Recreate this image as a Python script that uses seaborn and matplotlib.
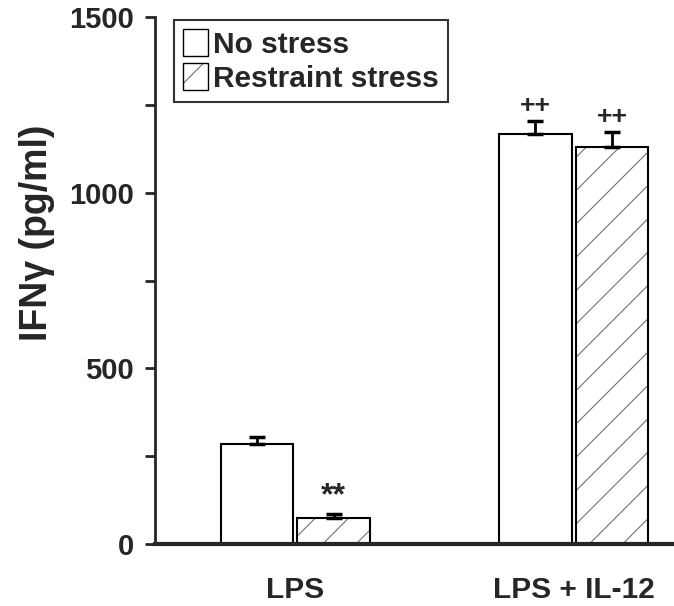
import matplotlib
matplotlib.use("Agg")
import matplotlib.pyplot as plt
import seaborn as sns
import pandas as pd
from matplotlib.patches import Patch

categories = ["LPS", "LPS + IL-12"]
conditions = ["No stress", "Restraint stress"]
no_stress = [285, 1167]
restraint = [74, 1130]
no_stress_err = [20, 37]
restraint_err = [11, 43]
yticks = [0, 500, 1000, 1500]
minor_yticks = [250, 750, 1250]

df = pd.DataFrame({
    "Treatment": categories * 2,
    "Condition": [conditions[0]] * 2 + [conditions[1]] * 2,
    "IFN": no_stress + restraint,
})

sns.set_theme(style="ticks")
plt.rcParams["font.family"] = ["Liberation Sans", "DejaVu Sans"]
plt.rcParams["font.weight"] = "bold"
plt.rcParams["hatch.linewidth"] = 0.8

HATCH_GRAY = (0.45, 0.45, 0.45, 1.0)

fig = plt.figure(figsize=(6.74, 6.06), dpi=100)
ax = fig.add_axes([155 / 674, 1 - 544 / 606, 1 - 155 / 674, (544 - 17) / 606])

sns.barplot(data=df, x="Treatment", y="IFN", hue="Condition", order=categories,
            hue_order=conditions, palette=["white", "white"], edgecolor="black",
            linewidth=1.5, width=0.55, gap=0.05, errorbar=None, legend=False, ax=ax)

bars = [p for p in ax.patches if p.get_height() > 0]
for i, cat in enumerate(categories):
    pair = [b for b in bars if abs(b.get_x() + b.get_width() / 2 - i) < 0.5]
    pair = sorted(pair, key=lambda p: p.get_x())
    ns_bar, rs_bar = pair
    rs_bar.set_hatch("/")
    rs_bar._hatch_color = HATCH_GRAY
    for b, err in ((ns_bar, no_stress_err[i]), (rs_bar, restraint_err[i])):
        xc = b.get_x() + b.get_width() / 2
        ax.errorbar(xc, b.get_height(), yerr=[[0], [err]], fmt="none",
                    ecolor="black", elinewidth=2, capsize=5.5, capthick=2.5, zorder=3)
    if i == 0:
        xc = rs_bar.get_x() + rs_bar.get_width() / 2
        ax.text(xc, rs_bar.get_height() + restraint_err[i] + 8, "**", ha="center",
                va="bottom", fontsize=23, fontweight="bold")
    else:
        for b, err in ((ns_bar, no_stress_err[i]), (rs_bar, restraint_err[i])):
            xc = b.get_x() + b.get_width() / 2
            ax.text(xc, b.get_height() + err + 8, "++", ha="center",
                    va="bottom", fontsize=19, fontweight="bold")

ax.set_xlim(-0.504, 1.36)
ax.set_ylim(0, 1500)
ax.set_yticks(yticks)
ax.set_yticks(minor_yticks, minor=True)
ax.set_yticklabels([str(t) for t in yticks], fontsize=21, fontweight="bold")
ax.tick_params(axis="y", which="both", length=7, width=2, direction="out", pad=8)
ax.tick_params(axis="x", length=0, pad=23)
for lab in ax.get_xticklabels():
    lab.set_fontsize(21.5)
    lab.set_fontweight("bold")
ax.set_xlabel("")
ax.set_ylabel("IFNγ (pg/ml)", fontsize=27, fontweight="bold")
ax.yaxis.set_label_coords(-0.193, 0.59)
ax.spines["top"].set_visible(False)
ax.spines["right"].set_visible(False)
ax.spines["left"].set_linewidth(2)
ax.spines["bottom"].set_linewidth(3)
ax.spines["left"].set_bounds(0, 1500)

handles = [Patch(facecolor="white", edgecolor="black", linewidth=1),
           Patch(facecolor="white", edgecolor="black", linewidth=1, hatch="/")]
leg = ax.legend(handles, conditions, loc="upper left",
                bbox_to_anchor=(174 / 674, 1 - 20 / 606), bbox_transform=fig.transFigure,
                prop={"size": 21.5, "weight": "bold"}, frameon=True, fancybox=False,
                handlelength=0.85, handleheight=1.0, handletextpad=0.15,
                borderpad=0.3, labelspacing=0.15, borderaxespad=0)
leg.get_frame().set_edgecolor("black")
leg.get_frame().set_linewidth(1.5)
for h in leg.legend_handles:
    h.set_edgecolor("black")
leg.legend_handles[1]._hatch_color = HATCH_GRAY

fig.savefig("out.png", dpi=100)
